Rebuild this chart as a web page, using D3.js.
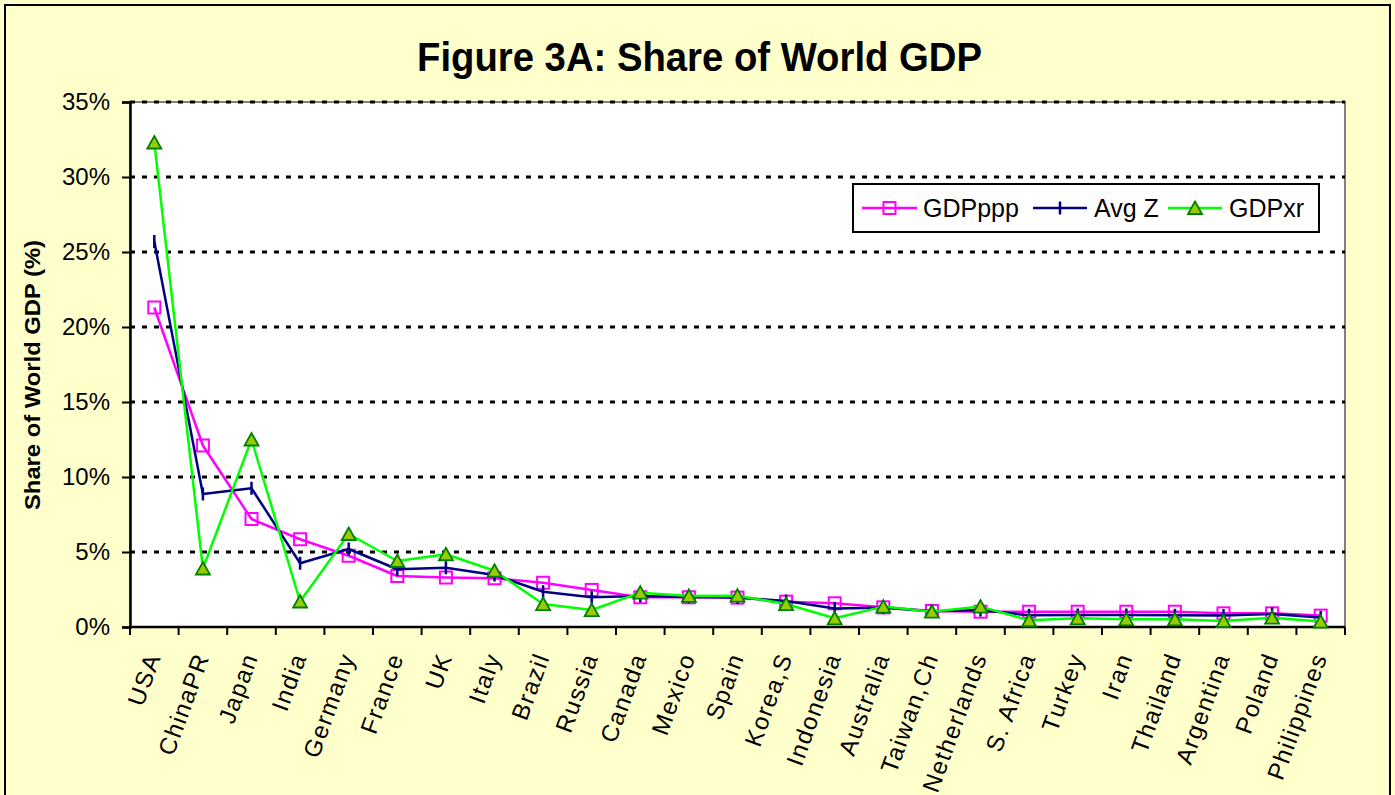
<!DOCTYPE html>
<html>
<head>
<meta charset="utf-8">
<script src="https://cdn.jsdelivr.net/npm/d3@7"></script>
<style>
  html, body { margin: 0; padding: 0; background: #FFFFCC; }
  svg { display: block; }
  text { font-family: "Liberation Sans", Arial, Helvetica, sans-serif; }
</style>
</head>
<body>
<svg id="chart" width="1395" height="795"></svg>
<script>
const categories = ["USA","ChinaPR","Japan","India","Germany","France","UK","Italy","Brazil","Russia","Canada","Mexico","Spain","Korea,S","Indonesia","Australia","Taiwan,Ch","Netherlands","S. Africa","Turkey","Iran","Thailand","Argentina","Poland","Philippines"];
const gdpPPP = [21.3,12.1,7.2,5.85,4.75,3.4,3.3,3.25,2.95,2.47,1.98,1.98,1.96,1.69,1.58,1.31,1.07,1.02,1.02,1.02,1.02,1.02,0.91,0.91,0.76];
const avgZ   = [25.7,8.87,9.25,4.25,5.2,3.85,3.95,3.47,2.35,1.98,2.07,2.0,1.97,1.73,1.24,1.29,1.05,1.13,0.78,0.8,0.8,0.78,0.76,0.87,0.64];
const gdpXR  = [32.3,3.9,12.5,1.7,6.2,4.4,4.85,3.75,1.53,1.13,2.29,2.07,2.09,1.53,0.58,1.36,1.02,1.36,0.45,0.58,0.51,0.51,0.4,0.62,0.36];
const yTicks = [0,5,10,15,20,25,30,35];
const seriesNames = ["GDPppp","Avg Z","GDPxr"];
const titleText = "Figure 3A: Share of World GDP";
const yLabelText = "Share of World GDP (%)";

const svg = d3.select("#chart");
const W = 1395, H = 795;
const plot = {left: 130, right: 1345, top: 102, bottom: 627};

// background and frame
svg.append("rect").attr("x",0).attr("y",0).attr("width",W).attr("height",H).attr("fill","#FFFFCC");
svg.append("rect").attr("x",5).attr("y",5).attr("width",1385).attr("height",805)
  .attr("fill","none").attr("stroke","#000").attr("stroke-width",2);

const x = d3.scaleBand().domain(categories).range([plot.left, plot.right]).padding(0);
const y = d3.scaleLinear().domain([0,35]).range([plot.bottom, plot.top]);
const cx = d => x(d) + x.bandwidth()/2;

// plot area
svg.append("rect").attr("x",plot.left).attr("y",plot.top)
  .attr("width",plot.right-plot.left).attr("height",plot.bottom-plot.top)
  .attr("fill","#fff").attr("stroke","#808080").attr("stroke-width",2);

// gridlines
svg.append("g").selectAll("line").data(yTicks.filter(t => t>0)).join("line")
  .attr("x1",plot.left).attr("x2",plot.right)
  .attr("y1",d=>y(d)).attr("y2",d=>y(d))
  .attr("stroke","#000").attr("stroke-width",3).attr("stroke-dasharray","5,7");

// y axis
const yAxis = d3.axisLeft(y).tickValues(yTicks).tickFormat(d => d + "%").tickSize(8).tickPadding(12);
const gy = svg.append("g").attr("transform",`translate(${plot.left},0)`).call(yAxis);
gy.select(".domain").attr("stroke","#000").attr("stroke-width",2.5);
gy.selectAll(".tick line").attr("stroke","#000").attr("stroke-width",2);
gy.selectAll(".tick text").attr("font-size",24).attr("fill","#000")
  .style("font-family","'Liberation Sans', Arial, sans-serif");

// x axis line and ticks at band boundaries
svg.append("line").attr("x1",plot.left).attr("x2",plot.right)
  .attr("y1",plot.bottom).attr("y2",plot.bottom).attr("stroke","#000").attr("stroke-width",2.5);
const bounds = categories.map(c => x(c)).concat([x(categories[categories.length-1]) + x.bandwidth()]);
svg.append("g").selectAll("line").data(bounds).join("line")
  .attr("x1",d=>d).attr("x2",d=>d).attr("y1",plot.bottom).attr("y2",plot.bottom+8)
  .attr("stroke","#000").attr("stroke-width",2);

// x labels
svg.append("g").selectAll("text").data(categories).join("text")
  .attr("transform", d => `translate(${cx(d)-1},654) rotate(-70)`)
  .attr("text-anchor","end").attr("dy","0.35em")
  .attr("font-size",24).attr("letter-spacing","1.5px").attr("fill","#000")
  .text(d => d);

// series
const line = d3.line().x((d,i) => cx(categories[i])).y(d => y(d));
function drawSeries(vals, color, markerFn) {
  svg.append("path").datum(vals).attr("d", line).attr("fill","none")
    .attr("stroke", color).attr("stroke-width", 2.5).attr("stroke-linejoin","round");
  const g = svg.append("g");
  vals.forEach((v,i) => markerFn(g, cx(categories[i]), y(v)));
}
function squareMarker(g, px, py) {
  g.append("rect").attr("x",px-6).attr("y",py-6).attr("width",12).attr("height",12)
    .attr("fill","none").attr("stroke","#FF00FF").attr("stroke-width",2);
}
function barMarker(g, px, py) {
  g.append("line").attr("x1",px).attr("x2",px).attr("y1",py-6.5).attr("y2",py+6.5)
    .attr("stroke","#000080").attr("stroke-width",2.5);
}
function triMarker(g, px, py) {
  g.append("path").attr("d",`M${px},${py-6.5}L${px+7},${py+6}L${px-7},${py+6}Z`)
    .attr("fill","#99CC00").attr("stroke","#008000").attr("stroke-width",1.8).attr("stroke-linejoin","miter");
}
drawSeries(gdpPPP, "#FF00FF", squareMarker);
drawSeries(avgZ, "#000080", barMarker);
drawSeries(gdpXR, "#00FF00", triMarker);

// legend
const lg = svg.append("g");
lg.append("rect").attr("x",853).attr("y",184).attr("width",466).attr("height",48)
  .attr("fill","#fff").attr("stroke","#000").attr("stroke-width",2);
const legendItems = [
  {name: seriesNames[0], color:"#FF00FF", x1:862, x2:917, tx:923, m:squareMarker},
  {name: seriesNames[1], color:"#000080", x1:1033, x2:1087, tx:1094, m:barMarker},
  {name: seriesNames[2], color:"#00FF00", x1:1168, x2:1222, tx:1229, m:triMarker}
];
legendItems.forEach(it => {
  lg.append("line").attr("x1",it.x1).attr("x2",it.x2).attr("y1",208).attr("y2",208)
    .attr("stroke",it.color).attr("stroke-width",2.5);
  it.m(lg, (it.x1+it.x2)/2, 208);
  lg.append("text").attr("x",it.tx).attr("y",216.5).attr("font-size",25).attr("fill","#000").text(it.name);
});

// title
svg.append("text").attr("x",417).attr("y",71)
  .attr("font-size",40).attr("font-weight","bold").attr("fill","#000")
  .attr("textLength",565).attr("lengthAdjust","spacingAndGlyphs")
  .text(titleText);

// y axis label
svg.append("text").attr("transform","translate(40,375) rotate(-90)")
  .attr("text-anchor","middle").attr("font-size",22).attr("font-weight","bold").attr("fill","#000")
  .attr("textLength",270).attr("lengthAdjust","spacingAndGlyphs")
  .text(yLabelText);
</script>
</body>
</html>
